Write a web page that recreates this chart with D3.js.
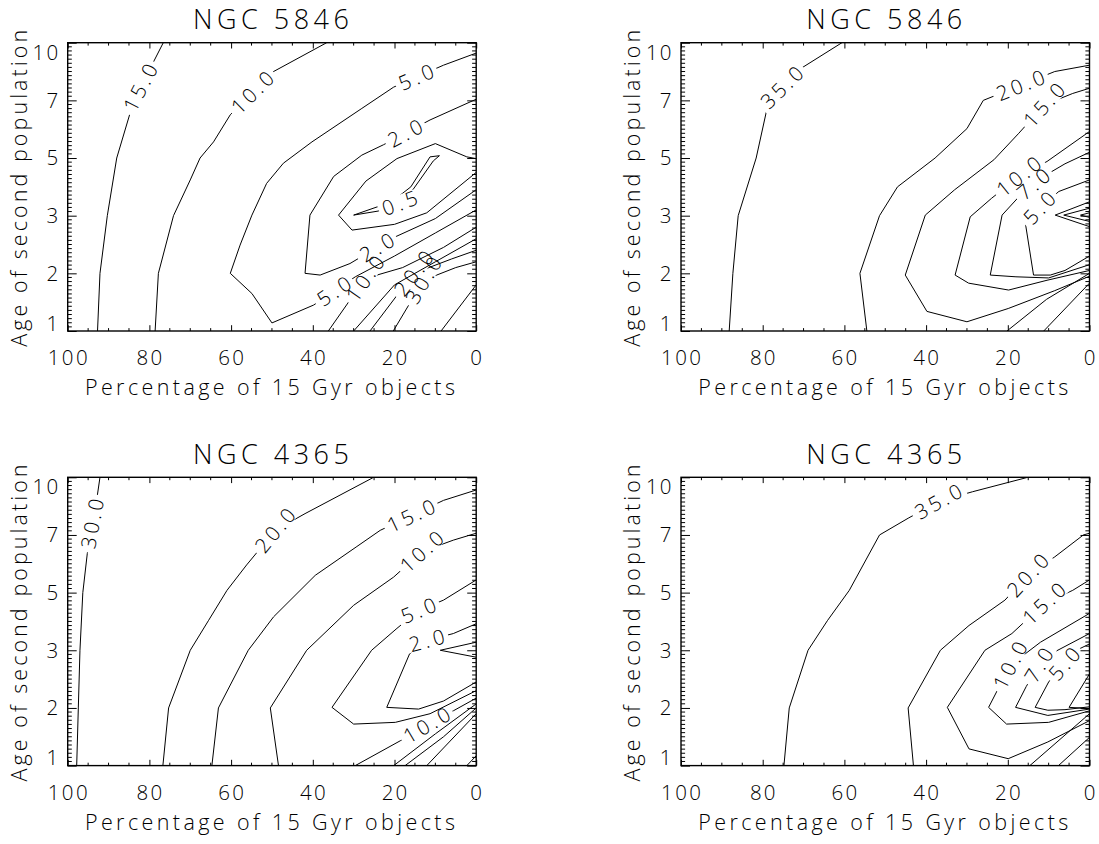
<!DOCTYPE html>
<html><head><meta charset="utf-8">
<script src="https://cdn.jsdelivr.net/npm/d3@7"></script>
<style>
body{margin:0;background:#fff}
svg{display:block}
text{font-family:'Open Sans','DejaVu Sans',sans-serif;font-weight:300;fill:#000}
</style></head>
<body><svg id="c" width="1099" height="844"></svg>
<script>
// ---------- axis data ----------
const xTicks = [100, 80, 60, 40, 20, 0];
const xMinor = d3.range(0, 101, 5);
const ageTicks = [1, 2, 3, 5, 7, 10];
const titles = ["NGC 5846", "NGC 5846", "NGC 4365", "NGC 4365"];
const xTitle = "Percentage of 15 Gyr objects";
const yTitle = "Age of second population";

// ---------- contour lines: [percentage, age] ----------
// Panel 1 (top left)
const tl_c15 = [[92.7,1],[92.1,2],[90.3,3],[88,5],[83.8,7],[76.6,10]];
const tl_c10 = [[78.6,1],[77.8,2],[74.1,3],[70,4.24],[67.6,5],[64.3,5.56],[60.2,6.5],[56.7,7],[49.6,8.5],[36.6,10]];
const tl_c5 = [[0,9.46],[8,8.83],[20.2,7.69],[28,6.72],[40.2,5.56],[47.2,4.82],[51.3,4.12],[54.9,3.02],[57.8,2.49],[60.2,2],[54.9,1.65],[50,1.14],[39.8,1.45],[29.6,1.94],[20,2.3],[10,2.7],[0,3.2]];
const tl_c2 = [[0,7.06],[11.3,6.32],[22.7,5.46],[28,5.1],[34.9,4.36],[40.7,3.02],[41.9,2],[38.2,1.97],[30.9,2.17],[24.3,2.45],[20.2,2.62],[10,2.95],[0,3.9]];
const tl_c1 = [[0,4.98],[2.3,5.04],[10,5.5],[19.4,4.98],[27,4.2],[33.7,3.02],[30.4,2.75],[20,2.85],[12.1,3.1],[0,4.5]];
const tl_c05 = [[30,3.02],[20.7,3.48],[16,4],[11.3,5.04],[9,5.08],[10.5,4.9],[14,4.2],[17.5,3.5],[24,3.16],[30,3.02]];
const tl_c10b = [[36.2,1],[27.2,1.91],[18,2.1],[8,2.45],[0,2.8]];
const tl_c15b = [[30,1],[20,1.8],[10,2.2],[0,2.6]];
const tl_c20 = [[26,1],[15.3,2.0],[6,2.25],[0,2.4]];
const tl_c30 = [[20.3,1],[12.9,1.88],[5,2.1],[0,2.2]];
const tl_c50 = [[8.6,1],[0,1.8]];
// Panel 2 (top right)
const tr_c35 = [[88.2,1],[87.3,2],[86,3],[81.6,5],[78.5,7],[70.5,8.68],[60.6,10]];
const tr_c20 = [[54.5,1],[56.2,2],[51.4,3],[47,4],[37.8,5],[30,6.02],[26,7],[8.5,8.5],[0,8.83]];
const tr_c15 = [[0,1.95],[8.5,1.7],[19.9,1.39],[30,1.16],[39.8,1.34],[45.1,1.97],[40.2,3.02],[33,3.9],[23.4,4.94],[17.3,5.86],[11.1,6.84],[4.1,7.36],[0,7.63]];
const tr_c10 = [[0,2.05],[10.4,1.88],[19.8,1.71],[29.6,1.83],[32.9,1.97],[29.2,2.98],[24,3.6],[17.3,4.36],[10.4,4.88],[0,5.92]];
const tr_c7 = [[0,2.15],[10,1.92],[18,1.94],[24.3,1.97],[21.4,3.02],[17,3.7],[12,4.3],[6,4.8],[0,5.2]];
const tr_c5 = [[0,2.3],[6,2.05],[9.6,1.97],[13.7,1.97],[15.7,2.87],[12,3.3],[7.5,3.84],[0,4.24]];
const tr_t1 = [[0,3.48],[8.4,3.02],[0,2.81]];
const tr_t2 = [[0,3.26],[6.3,3.02],[0,2.9]];
const tr_t3 = [[0,3.1],[2.2,3.02],[0,2.97]];
const tr_b1 = [[20.2,1],[10.5,1.55],[0,2.0]];
const tr_b2 = [[11.2,1],[0,1.83]];
// Panel 3 (bottom left)
const bl_c30 = [[97.8,1],[97.4,2],[97,3],[96.3,5],[95.2,6.36],[94.5,7],[92.9,8.83],[92.1,10]];
const bl_c20 = [[76.7,1],[75.3,2],[70,3],[65.5,4.04],[61,5.08],[56.2,5.96],[49.2,7.24],[41.9,8.11],[25.1,10]];
const bl_c15 = [[64.7,1],[63.1,2],[55.8,3],[49.6,4.16],[39.4,5.6],[29.2,6.6],[23.5,7.24],[8,8.8],[0,9.34]];
const bl_c10 = [[48.4,1],[50.4,2],[41.5,3],[30,4.56],[20.2,5.54],[13.3,6.42],[5.6,6.82],[0,7.09]];
const bl_c5 = [[0,5.44],[8,4.74],[14.1,4.38],[19.4,3.76],[25.6,3],[35.3,2.01],[30,1.72],[19.8,1.75],[11.3,1.9],[0,2.3]];
const bl_c2 = [[0,3.92],[5.6,3.58],[12.1,3.34],[16.3,2.94],[21.9,2.01],[14.1,1.98],[8,2.12],[0,2.45]];
const bl_c1 = [[0,3.28],[8.8,3.0],[0,2.88]];
const bl_c10b = [[29.6,1],[18.6,1.43],[12.1,1.7],[5.6,1.95],[0,2.17]];
const bl_b1 = [[20.2,1],[10,1.55],[0,2.07]];
const bl_b2 = [[17.4,1],[8,1.5],[0,2.0]];
const bl_b3 = [[12.1,1],[0,1.9]];
const bl_b4 = [[2.3,1],[0,1.17]];
// Panel 4 (bottom right)
const br_c35 = [[74.8,1],[73.5,2],[68.9,3],[64.1,4.04],[58.8,5.08],[51.4,7],[44.4,7.87],[37,8.74],[28.6,9.25],[15.1,10]];
const br_c20 = [[43.1,1],[44.4,2],[36.5,3],[29.5,3.86],[20.7,4.74],[15.1,5.6],[8.5,6.24],[1.5,7],[0,7.09]];
const br_c15 = [[0,1.78],[10.2,1.41],[19.9,1.12],[29.5,1.29],[34.8,2.01],[25.6,3],[19,3.58],[11.1,4.62],[4.1,5.08],[0,5.44]];
const br_c10 = [[0,1.95],[10,1.75],[20.3,1.72],[24.7,2.01],[19.4,2.74],[12,3.28],[0,4.28]];
const br_c7 = [[0,1.98],[10.2,1.87],[18.1,2.01],[15.5,2.37],[12.4,2.74],[9.4,2.94],[0,3.58]];
const br_c5 = [[0,2.02],[6,1.97],[10.2,1.96],[13.3,2.01],[10,2.45],[7.6,2.65],[3.2,3],[0,3.22]];
const br_c2 = [[0,2.59],[5,2.01],[0,1.99]];
const br_b1 = [[14.6,1],[0,1.9]];
const br_b2 = [[7.6,1],[0,1.49]];

// ---------- panels: lines with their labels ----------
const panels = [
  {title: titles[0], lines: [
    {pts: tl_c15, text: "15.0", labels: [[82.5,7.7]]},
    {pts: tl_c10, text: "10.0", labels: [[55,7.45]]},
    {pts: tl_c5, text: "5.0", labels: [[14.9,8.3],[34.9,1.7]]},
    {pts: tl_c2, text: "2.0", labels: [[17.4,5.86],[24.3,2.45]]},
    {pts: tl_c1, text: "1.0", labels: []},
    {pts: tl_c05, text: "0.5", labels: [[18.5,3.35]]},
    {pts: tl_c10b, text: "10.0", labels: [[27.2,1.91]]},
    {pts: tl_c15b, text: "15.0", labels: []},
    {pts: tl_c20, text: "20.0", labels: [[15.3,2.0]]},
    {pts: tl_c30, text: "30.0", labels: [[12.9,1.88]]},
    {pts: tl_c50, text: "50.0", labels: []}
  ]},
  {title: titles[1], lines: [
    {pts: tr_c35, text: "35.0", labels: [[75.5,7.72]]},
    {pts: tr_c20, text: "20.0", labels: [[17.1,7.9]]},
    {pts: tr_c15, text: "15.0", labels: [[11.1,6.84]]},
    {pts: tr_c10, text: "10.0", labels: [[17.3,4.36]]},
    {pts: tr_c7, text: "7.0", labels: [[14.6,4.24]]},
    {pts: tr_c5, text: "5.0", labels: [[12.5,3.3]]},
    {pts: tr_t1, text: "", labels: []},
    {pts: tr_t2, text: "", labels: []},
    {pts: tr_t3, text: "", labels: []},
    {pts: tr_b1, text: "", labels: []},
    {pts: tr_b2, text: "", labels: []}
  ]},
  {title: titles[2], lines: [
    {pts: bl_c30, text: "30.0", labels: [[94.2,7.6]]},
    {pts: bl_c20, text: "20.0", labels: [[49.2,7.24]]},
    {pts: bl_c15, text: "15.0", labels: [[16.6,8.29]]},
    {pts: bl_c10, text: "10.0", labels: [[13.3,6.42]]},
    {pts: bl_c5, text: "5.0", labels: [[14.1,4.38]]},
    {pts: bl_c2, text: "2.0", labels: [[12.1,3.34]]},
    {pts: bl_c1, text: "", labels: []},
    {pts: bl_c10b, text: "10.0", labels: [[12.1,1.7]]},
    {pts: bl_b1, text: "", labels: []},
    {pts: bl_b2, text: "", labels: []},
    {pts: bl_b3, text: "", labels: []},
    {pts: bl_b4, text: "", labels: []}
  ]},
  {title: titles[3], lines: [
    {pts: br_c35, text: "35.0", labels: [[37,8.74]]},
    {pts: br_c20, text: "20.0", labels: [[15.1,5.6]]},
    {pts: br_c15, text: "15.0", labels: [[11.1,4.62]]},
    {pts: br_c10, text: "10.0", labels: [[19.4,2.74]]},
    {pts: br_c7, text: "7.0", labels: [[12.4,2.74]]},
    {pts: br_c5, text: "5.0", labels: [[6.7,2.8]]},
    {pts: br_c2, text: "", labels: []},
    {pts: br_b1, text: "", labels: []},
    {pts: br_b2, text: "", labels: []}
  ]}
];

// ---------- layout ----------
const W = 408.5, H = 288.3;
const boxes = [{x:67.7,y:42.7},{x:681,y:42.7},{x:67.7,y:477.3},{x:681,y:477.3}];
const FS = 20.5;          // tick / contour label font size
const DIGIT = 14.3, DOT = 7.5;
const yMinorPerInterval = 14;

const svg = d3.select("#c");
const defs = svg.append("defs");

function labelLen(s){ let L=0; for(const ch of s){ L += (ch==='.')?DOT:DIGIT; } return L; }

panels.forEach((panel, pi) => {
  const b = boxes[pi];
  const x = d3.scaleLinear().domain([100,0]).range([b.x, b.x+W]);
  const y = d3.scaleLinear().domain(ageTicks).range(ageTicks.map((d,i)=>b.y+H-i*H/5));
  const g = svg.append("g");

  defs.append("clipPath").attr("id","clip"+pi)
    .append("rect").attr("x",b.x).attr("y",b.y).attr("width",W).attr("height",H);

  const line = d3.line().x(d=>x(d[0])).y(d=>y(d[1]));
  const cg = g.append("g").attr("clip-path",`url(#clip${pi})`);

  panel.lines.forEach((L, li) => {
    const P = L.pts.map(d=>[x(d[0]), y(d[1])]);
    const labs = L.labels.map(lp => {
      const q = [x(lp[0]), y(lp[1])];
      let best = null;
      for (let k=0;k<P.length-1;k++){
        const a=P[k], c=P[k+1];
        const dx=c[0]-a[0], dy=c[1]-a[1];
        const l2=dx*dx+dy*dy;
        let t = l2>0 ? ((q[0]-a[0])*dx+(q[1]-a[1])*dy)/l2 : 0;
        t=Math.max(0,Math.min(1,t));
        const px=a[0]+t*dx, py=a[1]+t*dy;
        const dist=(px-q[0])**2+(py-q[1])**2;
        if(!best||dist<best.dist) best={px,py,dist,dx,dy};
      }
      let ang = Math.atan2(best.dy,best.dx)*180/Math.PI;
      if(ang>90) ang-=180; if(ang<-90) ang+=180;
      return {x:best.px, y:best.py, ang, len:labelLen(L.text)};
    });
    const mid = `m${pi}_${li}`;
    const m = defs.append("mask").attr("id",mid).attr("maskUnits","userSpaceOnUse")
      .attr("x",0).attr("y",0).attr("width",1099).attr("height",844);
    m.append("rect").attr("x",0).attr("y",0).attr("width",1099).attr("height",844).attr("fill","#fff");
    labs.forEach(l=>{
      m.append("rect").attr("x",-l.len/2-4).attr("y",-8).attr("width",l.len+8).attr("height",16)
        .attr("fill","#000").attr("transform",`translate(${l.x},${l.y}) rotate(${l.ang})`);
    });
    cg.append("path").attr("d",line(L.pts)).attr("fill","none").attr("stroke","#000")
      .attr("stroke-width",1).attr("mask",`url(#${mid})`);
    labs.forEach(l=>{
      g.append("text").text(L.text)
        .attr("transform",`translate(${l.x},${l.y}) rotate(${l.ang})`)
        .attr("text-anchor","middle").attr("dy","0.36em")
        .attr("font-size",FS).attr("textLength",l.len).attr("lengthAdjust","spacing");
    });
  });

  // axes (major ticks via d3.axis, inward)
  const axG = g.append("g");
  axG.append("g").attr("transform",`translate(0,${b.y+H})`)
    .call(d3.axisBottom(x).tickValues(xTicks).tickSize(-5.8).tickFormat(""));
  axG.append("g").attr("transform",`translate(0,${b.y})`)
    .call(d3.axisTop(x).tickValues(xTicks).tickSize(-5.8).tickFormat(""));
  axG.append("g").attr("transform",`translate(${b.x},0)`)
    .call(d3.axisLeft(y).tickValues(ageTicks).tickSize(-9).tickFormat(""));
  axG.append("g").attr("transform",`translate(${b.x+W},0)`)
    .call(d3.axisRight(y).tickValues(ageTicks).tickSize(-9).tickFormat(""));
  axG.selectAll(".domain").remove();
  axG.selectAll("line").attr("stroke","#000").attr("stroke-width",1);

  // minor ticks
  xMinor.filter(v=>!xTicks.includes(v)).forEach(v=>{
    axG.append("line").attr("x1",x(v)).attr("x2",x(v)).attr("y1",b.y+H).attr("y2",b.y+H-2.9).attr("stroke","#000");
    axG.append("line").attr("x1",x(v)).attr("x2",x(v)).attr("y1",b.y).attr("y2",b.y+2.9).attr("stroke","#000");
  });
  for(let i=0;i<ageTicks.length-1;i++){
    const y0=y(ageTicks[i]), y1=y(ageTicks[i+1]);
    for(let k=1;k<yMinorPerInterval;k++){
      const yy=y0+(y1-y0)*k/yMinorPerInterval;
      axG.append("line").attr("x1",b.x).attr("x2",b.x+4.1).attr("y1",yy).attr("y2",yy).attr("stroke","#000");
      axG.append("line").attr("x1",b.x+W).attr("x2",b.x+W-4.1).attr("y1",yy).attr("y2",yy).attr("stroke","#000");
    }
  }

  // frame
  g.append("rect").attr("x",b.x).attr("y",b.y).attr("width",W).attr("height",H)
    .attr("fill","none").attr("stroke","#000").attr("stroke-width",1.4);

  // tick labels
  xTicks.forEach(v=>{
    const s=String(v);
    g.append("text").text(s).attr("x",x(v)).attr("y",b.y+H+34)
      .attr("text-anchor","middle").attr("font-size",FS)
      .attr("textLength",s.length*DIGIT-3).attr("lengthAdjust","spacing");
  });
  ageTicks.forEach((v,i)=>{
    const s=String(v);
    let yy=y(v);
    if(i===ageTicks.length-1) yy=b.y+9.5;
    if(i===0) yy=b.y+H-7.5;
    g.append("text").text(s).attr("x",b.x-9.5).attr("y",yy).attr("dy","0.36em")
      .attr("text-anchor","end").attr("font-size",FS)
      .attr("textLength",s.length*DIGIT-3).attr("lengthAdjust","spacing");
  });

  // titles
  g.append("text").text(panel.title).attr("x",b.x+W/2-1).attr("y",b.y-13.7)
    .attr("text-anchor","middle").attr("font-size",27)
    .attr("textLength",156).attr("lengthAdjust","spacing");
  g.append("text").text(xTitle).attr("x",b.x+W/2-2).attr("y",b.y+H+64)
    .attr("text-anchor","middle").attr("font-size",21.5)
    .attr("textLength",370).attr("lengthAdjust","spacing");
  g.append("text").text(yTitle)
    .attr("transform",`translate(${b.x-40.7},${b.y+H/2+1.5}) rotate(-90)`)
    .attr("text-anchor","middle").attr("font-size",21.5)
    .attr("textLength",317).attr("lengthAdjust","spacing");
});
</script>
</body></html>
